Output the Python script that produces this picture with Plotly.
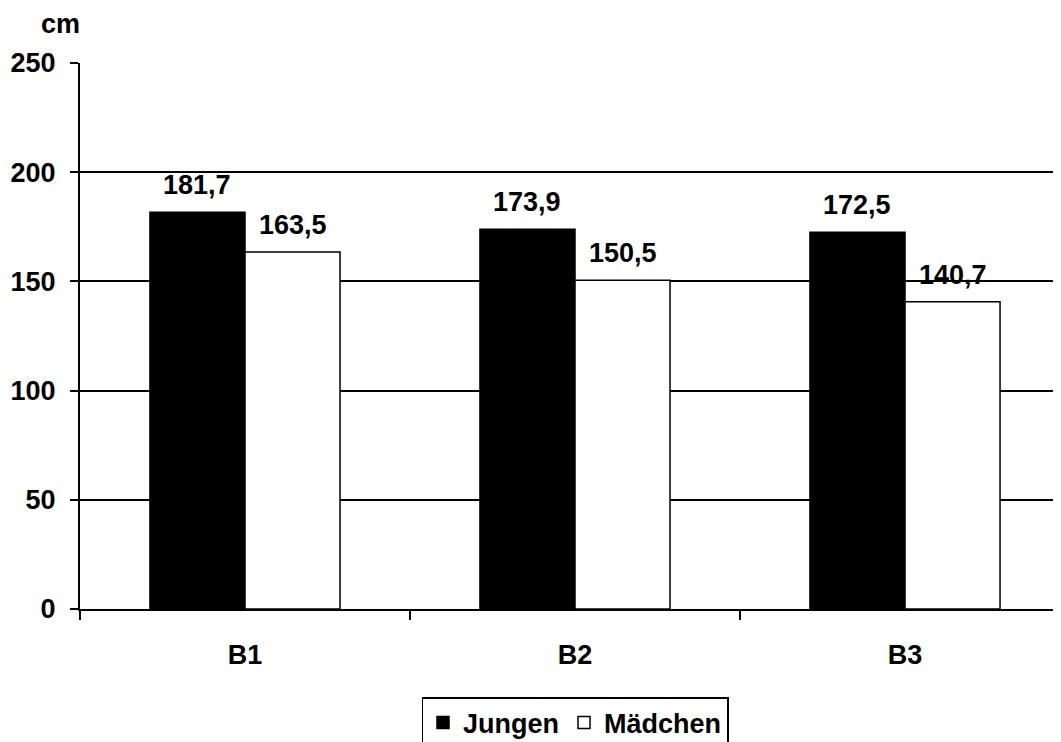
import plotly.graph_objects as go

categories = ["B1", "B2", "B3"]
jungen = [181.7, 173.9, 172.5]
maedchen = [163.5, 150.5, 140.7]
series_names = ["Jungen", "Mädchen"]
y_ticks = [0, 50, 100, 150, 200, 250]

FONT = "Arial, Liberation Sans, sans-serif"
FS = 27
BARGAP = 0.424
PAGE_OFF = 8                     # default body margin of the html page
W, H = 1061 - PAGE_OFF, 742 - PAGE_OFF
ML, MR, MT, MB = 80 - PAGE_OFF, 0, 63 - PAGE_OFF, 133
CAT_PX = 330.0

def fmt(v):
    return f"{v:.1f}".replace(".", ",")

bold = dict(family=FONT, size=FS, color="black", weight="bold")

fig = go.Figure()
fig.add_trace(go.Bar(x=categories, y=jungen, name=series_names[0],
                     marker=dict(color="black", line=dict(color="black", width=1.5))))
fig.add_trace(go.Bar(x=categories, y=maedchen, name=series_names[1],
                     marker=dict(color="white", line=dict(color="black", width=1.5))))

bw = (1 - BARGAP) / 2
annotations = []
for i, c in enumerate(categories):
    for vals, off in ((jungen, -bw / 2), (maedchen, bw / 2)):
        annotations.append(dict(x=i + off, y=vals[i], xref="x", yref="y",
                                text=fmt(vals[i]), showarrow=False,
                                yanchor="bottom", yshift=10, font=bold))

plot_w = W - ML - MR
plot_h = H - MT - MB
annotations.append(dict(x=(60 - 80) / plot_w, y=1 + (63 - 8) / plot_h,
                        xref="paper", yref="paper", text="cm", showarrow=False,
                        xanchor="center", yanchor="top", borderpad=0, font=bold))

fig.update_layout(
    width=W, height=H,
    margin=dict(l=ML, r=MR, t=MT, b=MB, autoexpand=False),
    paper_bgcolor="white", plot_bgcolor="white",
    barmode="group", bargap=BARGAP, bargroupgap=0,
    font=bold,
    showlegend=True,
    legend=dict(orientation="h", x=(575 - 80) / plot_w, xanchor="center",
                y=-(697 - 609) / plot_h, yanchor="top",
                bordercolor="black", borderwidth=1.5, bgcolor="white",
                font=bold, traceorder="normal"),
    annotations=annotations,
    xaxis=dict(range=[-0.5, 2.5 - (80 + 3 * CAT_PX - 1061) / CAT_PX],
               showline=True, linecolor="black", linewidth=2,
               ticks="outside", tickson="boundaries", ticklen=9, tickwidth=1.5, tickcolor="black",
               ticklabelstandoff=21, showgrid=False, tickfont=bold),
    yaxis=dict(range=[0, 250], tickvals=y_ticks,
               showline=True, linecolor="black", linewidth=2,
               ticks="outside", ticklen=8, tickwidth=1.5, tickcolor="black",
               showgrid=True, gridcolor="black", gridwidth=1.5,
               zeroline=False, ticklabelstandoff=9, tickfont=bold),
)

fig.write_html("out.html")
